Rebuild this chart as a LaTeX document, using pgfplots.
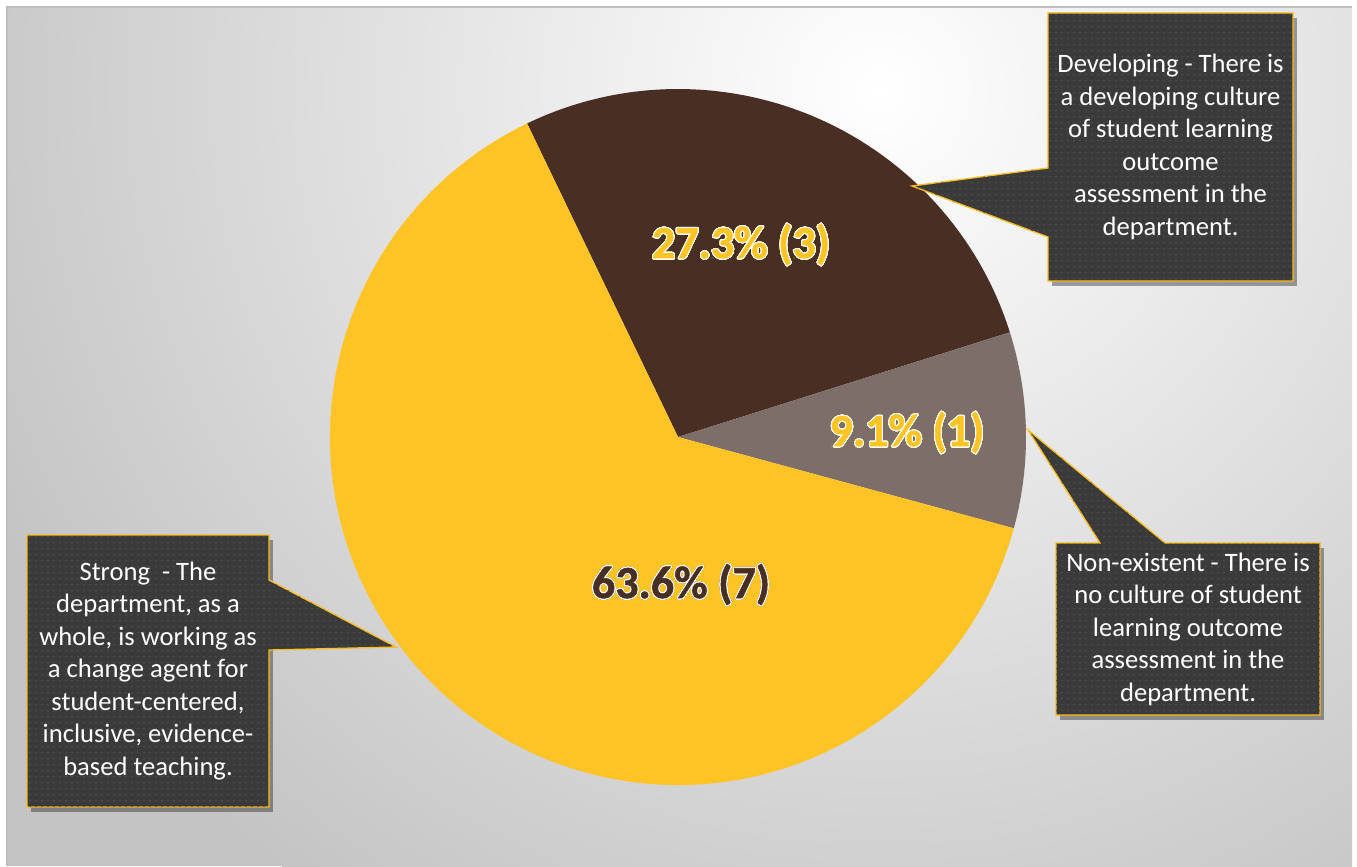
\documentclass[border=0pt]{standalone}
\usepackage{fontspec}
\setmainfont{Carlito}
\newfontfamily\labelfont[FakeBold=1.2]{Carlito Bold}
\usepackage{pgfplots}
\usepackage{pgfplotstable}
\pgfplotsset{compat=1.18}
\usetikzlibrary{patterns.meta}
\usepackage{contour}
\contournumber{32}

\definecolor{pieYellow}{RGB}{254,196,38}
\definecolor{pieBrown}{RGB}{73,46,36}
\definecolor{pieGrey}{RGB}{125,110,106}
\definecolor{boxFill}{RGB}{58,58,58}
\definecolor{boxDot}{RGB}{80,80,80}
\definecolor{boxEdge}{RGB}{252,190,30}
\definecolor{panelGrey}{RGB}{196,196,196}
\definecolor{panelEdge}{RGB}{190,190,190}

\tikzdeclarepattern{
  name=bigdots, type=uncolored,
  bottom left={(-1pt,-1pt)}, top right={(5pt,5pt)},
  tile size={(6pt,6pt)},
  code={\fill (0,0) circle (0.9pt);}
}

% counts per answer
\pgfplotstableread{
label count
Developing 3
Nonexistent 1
Strong 7
}\piedata

\begin{document}
\begin{tikzpicture}[
  callout/.style={fill=boxFill, draw=boxEdge, line width=1.3pt, line join=miter},
  calltext/.style={text=white, align=center, font=\fontsize{26.6}{32.5}\selectfont, inner sep=0pt},
  shadow/.style={fill=black, opacity=.35, xshift=4pt, yshift=-5pt},
  pct/.style={font=\fontsize{46}{50}\selectfont\labelfont},
]

\pgfplotstablegetelem{0}{count}\of\piedata \let\cA\pgfplotsretval
\pgfplotstablegetelem{1}{count}\of\piedata \let\cB\pgfplotsretval
\pgfplotstablegetelem{2}{count}\of\piedata \let\cC\pgfplotsretval
\pgfmathsetmacro\total{\cA+\cB+\cC}
\pgfmathsetmacro\aA{115.7}
\pgfmathsetmacro\aB{\aA-360*\cA/\total}
\pgfmathsetmacro\aC{\aB-360*\cB/\total}
\pgfmathsetmacro\aD{\aC-360*\cC/\total}

\begin{axis}[
  x=1pt, y=1pt,
  xmin=0, xmax=1357, ymin=0, ymax=866,
  y dir=reverse,
  enlargelimits=false,
  hide axis, clip=false,
]

% panel
\fill[white] (axis cs:0,0) rectangle (axis cs:1357,866);
\fill[panelGrey] (axis cs:7,7) rectangle (axis cs:1352,866);
\begin{scope}
  \clip (axis cs:7,7) rectangle (axis cs:1352,866);
  \shade[inner color=white, outer color=panelGrey] (axis cs:880,90) circle (980pt);
\end{scope}
\draw[panelEdge, line width=1.5pt] (axis cs:7,866) -- (axis cs:7,7) -- (axis cs:1352,7);

% pie
\fill[pieBrown] (axis cs:678,437) -- ++(\aA:348pt) arc[start angle=\aA, end angle=\aB, radius=348pt] -- cycle;
\fill[pieGrey] (axis cs:678,437) -- ++(\aB:348pt) arc[start angle=\aB, end angle=\aC, radius=348pt] -- cycle;
\fill[pieYellow] (axis cs:678,437) -- ++(\aC:348pt) arc[start angle=\aC, end angle=\aD, radius=348pt] -- cycle;

% data labels
\contourlength{3.5pt}
\node[pct, text=pieYellow] at (axis cs:741,245) {\contour{pieYellow}{27.3\% (3)}};
\node[pct, text=pieYellow] at (axis cs:907,433) {\contour{pieYellow}{9.1\% (1)}};
\node[pct, text=pieBrown] at (axis cs:681,585) {\contour{pieBrown}{63.6\% (7)}};
\contourlength{1pt}
\node[pct, text=pieYellow] at (axis cs:741,245) {\contour{white}{27.3\% (3)}};
\node[pct, text=pieYellow] at (axis cs:907,433) {\contour{white}{9.1\% (1)}};
\node[pct, text=pieBrown] at (axis cs:681,585) {\contour{white}{63.6\% (7)}};

% callouts
\fill[shadow] (axis cs:1048,13) -- (axis cs:1293,13) -- (axis cs:1293,281) -- (axis cs:1048,281) -- cycle;
\fill[shadow] (axis cs:1056,543) -- (axis cs:1320,543) -- (axis cs:1320,715) -- (axis cs:1056,715) -- cycle;
\fill[shadow] (axis cs:27,535) -- (axis cs:269,535) -- (axis cs:269,807) -- (axis cs:27,807) -- cycle;

\path[callout, postaction={pattern=bigdots, pattern color=boxDot}]
  (axis cs:1048,13) -- (axis cs:1293,13) -- (axis cs:1293,281) -- (axis cs:1048,281)
  -- (axis cs:1048,237) -- (axis cs:912,186) -- (axis cs:1048,168) -- cycle;
\path[callout, postaction={pattern=bigdots, pattern color=boxDot}]
  (axis cs:1056,543) -- (axis cs:1100,543) -- (axis cs:1028,430) -- (axis cs:1165,543)
  -- (axis cs:1320,543) -- (axis cs:1320,715) -- (axis cs:1056,715) -- cycle;
\path[callout, postaction={pattern=bigdots, pattern color=boxDot}]
  (axis cs:27,535) -- (axis cs:269,535) -- (axis cs:269,580) -- (axis cs:396,647)
  -- (axis cs:269,650) -- (axis cs:269,807) -- (axis cs:27,807) -- cycle;

\node[calltext] at (axis cs:1170.5,147) {Developing - There is\\a developing culture\\of student learning\\outcome\\assessment in the\\department.};
\node[calltext] at (axis cs:1188,629) {Non-existent - There is\\no culture of student\\learning outcome\\assessment in the\\department.};
\node[calltext] at (axis cs:148,671) {Strong\ \ - The\\department, as a\\whole, is working as\\a change agent for\\student-centered,\\inclusive, evidence-\\based teaching.};

\end{axis}
\end{tikzpicture}
\end{document}
